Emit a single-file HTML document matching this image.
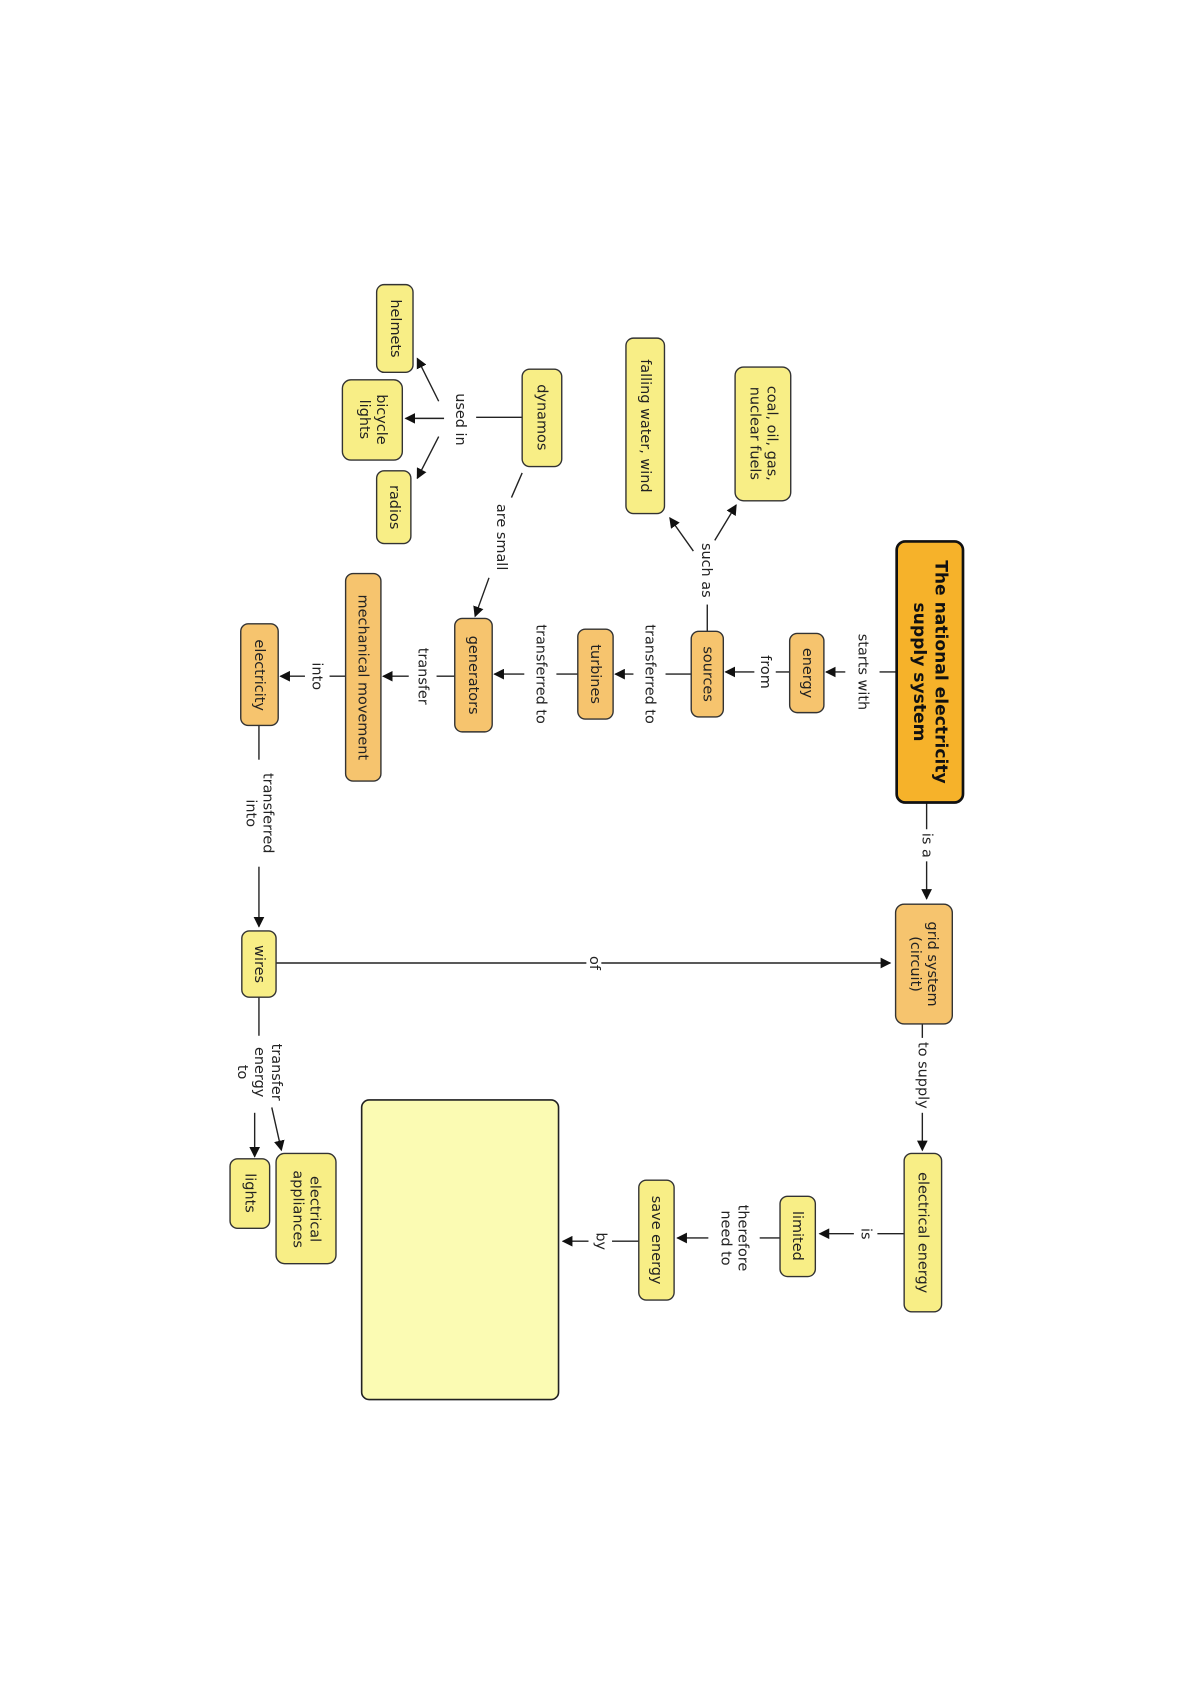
<!DOCTYPE html>
<html><head><meta charset="utf-8"><style>
html,body{margin:0;padding:0;background:#fff;}
svg{display:block;}
text{font-family:"DejaVu Sans","Liberation Sans",sans-serif;font-size:13.5px;fill:#222;}
.t{font-weight:bold;font-size:16px;fill:#111;}
.o{fill:#F6C46E;stroke:#333;stroke-width:1.3;}
.y{fill:#F8EE86;stroke:#333;stroke-width:1.3;}
.l{stroke:#222;stroke-width:1.3;fill:none;}
</style></head><body>
<svg width="1188" height="1681" viewBox="0 0 1188 1681">
<defs><marker id="a" markerWidth="10" markerHeight="10" refX="9" refY="5" orient="auto" markerUnits="userSpaceOnUse"><path d="M0,0 L10,5 L0,10 z" fill="#111"/></marker></defs>
<g transform="scale(1.07)">
<!-- connectors -->
<g class="l">
<line x1="838" y1="628" x2="822" y2="628"/><line x1="790" y1="628" x2="772" y2="628" marker-end="url(#a)"/>
<line x1="738" y1="628" x2="725" y2="628"/><line x1="705" y1="628" x2="678" y2="628" marker-end="url(#a)"/>
<line x1="646" y1="630" x2="622" y2="630"/><line x1="592" y1="630" x2="575" y2="630" marker-end="url(#a)"/>
<line x1="661" y1="590" x2="661" y2="565"/>
<line x1="668" y1="505" x2="688" y2="472" marker-end="url(#a)"/>
<line x1="648" y1="515" x2="626" y2="484" marker-end="url(#a)"/>
<line x1="540" y1="630" x2="520" y2="630"/><line x1="490" y1="630" x2="462" y2="630" marker-end="url(#a)"/>
<line x1="425" y1="632" x2="408" y2="632"/><line x1="382" y1="632" x2="358" y2="632" marker-end="url(#a)"/>
<line x1="323" y1="632" x2="308" y2="632"/><line x1="285" y1="632" x2="262" y2="632" marker-end="url(#a)"/>
<line x1="242" y1="678" x2="242" y2="710"/><line x1="242" y1="810" x2="242" y2="866" marker-end="url(#a)"/>
<line x1="242" y1="900" x2="548" y2="900"/><line x1="562" y1="900" x2="832" y2="900" marker-end="url(#a)"/>
<line x1="866" y1="750" x2="866" y2="775"/><line x1="866" y1="805" x2="866" y2="840" marker-end="url(#a)"/>
<line x1="862" y1="957" x2="862" y2="970"/><line x1="862" y1="1040" x2="862" y2="1075" marker-end="url(#a)"/>
<line x1="845" y1="1153" x2="820" y2="1153"/><line x1="798" y1="1153" x2="766" y2="1153" marker-end="url(#a)"/>
<line x1="729" y1="1157" x2="710" y2="1157"/><line x1="662" y1="1157" x2="633" y2="1157" marker-end="url(#a)"/>
<line x1="597" y1="1160" x2="572" y2="1160"/><line x1="550" y1="1160" x2="526" y2="1160" marker-end="url(#a)"/>
<line x1="242" y1="932" x2="242" y2="968"/>
<line x1="254" y1="1035" x2="263" y2="1075" marker-end="url(#a)"/>
<line x1="238" y1="1040" x2="238" y2="1081" marker-end="url(#a)"/>
<line x1="488" y1="442" x2="478" y2="465"/><line x1="457" y1="540" x2="444" y2="576" marker-end="url(#a)"/>
<line x1="488" y1="390" x2="445" y2="390"/>
<line x1="410" y1="375" x2="390" y2="335" marker-end="url(#a)"/>
<line x1="415" y1="391" x2="379" y2="391" marker-end="url(#a)"/>
<line x1="410" y1="408" x2="390" y2="447" marker-end="url(#a)"/>
</g>
<!-- nodes -->
<rect x="838" y="506" width="62" height="244" rx="8" fill="#F6B22A" stroke="#111" stroke-width="2.5"/>
<rect class="o" x="738" y="592" width="32" height="74" rx="7"/>
<rect class="o" x="646" y="590" width="30" height="80" rx="7"/>
<rect class="o" x="540" y="588" width="33" height="84" rx="7"/>
<rect class="o" x="425" y="578" width="35" height="106" rx="7"/>
<rect class="o" x="323" y="536" width="33" height="194" rx="7"/>
<rect class="o" x="225" y="583" width="35" height="95" rx="7"/>
<rect class="o" x="837" y="845" width="53" height="112" rx="8"/>
<rect class="y" x="845" y="1078" width="35" height="148" rx="7"/>
<rect class="y" x="729" y="1118" width="33" height="75" rx="7"/>
<rect class="y" x="597" y="1103" width="33" height="112" rx="7"/>
<rect x="338" y="1028" width="184" height="280" rx="7" fill="#FBFBB3" stroke="#222" stroke-width="1.5"/>
<rect class="y" x="226" y="870" width="32" height="62" rx="7"/>
<rect class="y" x="258" y="1078" width="56" height="103" rx="8"/>
<rect class="y" x="215" y="1083" width="37" height="65" rx="7"/>
<rect class="y" x="687" y="343" width="52" height="125" rx="8"/>
<rect class="y" x="585" y="316" width="36" height="164" rx="7"/>
<rect class="y" x="488" y="345" width="37" height="91" rx="7"/>
<rect class="y" x="352" y="266" width="34" height="82" rx="7"/>
<rect class="y" x="320" y="355" width="56" height="75" rx="8"/>
<rect class="y" x="352" y="440" width="32" height="68" rx="7"/>
<!-- texts -->
<g text-anchor="middle" dominant-baseline="central">
<text class="t" transform="translate(869,628) rotate(90)"><tspan x="0" dy="-10">The national electricity</tspan><tspan x="0" dy="20">supply system</tspan></text>
<text transform="translate(754,629) rotate(90)">energy</text>
<text transform="translate(661,630) rotate(90)">sources</text>
<text transform="translate(556,630) rotate(90)">turbines</text>
<text transform="translate(442,631) rotate(90)">generators</text>
<text transform="translate(339,633) rotate(90)">mechanical movement</text>
<text transform="translate(242,631) rotate(90)">electricity</text>
<text transform="translate(863,901) rotate(90)"><tspan x="0" dy="-8">grid system</tspan><tspan x="0" dy="16">(circuit)</tspan></text>
<text transform="translate(862,1152) rotate(90)">electrical energy</text>
<text transform="translate(745,1155) rotate(90)">limited</text>
<text transform="translate(613,1159) rotate(90)">save energy</text>
<text transform="translate(242,901) rotate(90)">wires</text>
<text transform="translate(286,1130) rotate(90)"><tspan x="0" dy="-8">electrical</tspan><tspan x="0" dy="16">appliances</tspan></text>
<text transform="translate(233,1115) rotate(90)">lights</text>
<text transform="translate(713,405) rotate(90)"><tspan x="0" dy="-8">coal, oil, gas,</tspan><tspan x="0" dy="16">nuclear fuels</tspan></text>
<text transform="translate(603,398) rotate(90)">falling water, wind</text>
<text transform="translate(506,390) rotate(90)">dynamos</text>
<text transform="translate(369,307) rotate(90)">helmets</text>
<text transform="translate(348,392) rotate(90)"><tspan x="0" dy="-8">bicycle</tspan><tspan x="0" dy="16">lights</tspan></text>
<text transform="translate(368,474) rotate(90)">radios</text>
<!-- link labels -->
<text transform="translate(806,628) rotate(90)">starts with</text>
<text transform="translate(715,628) rotate(90)">from</text>
<text transform="translate(607,630) rotate(90)">transferred to</text>
<text transform="translate(660,533) rotate(90)">such as</text>
<text transform="translate(505,630) rotate(90)">transferred to</text>
<text transform="translate(395,632) rotate(90)">transfer</text>
<text transform="translate(296,632) rotate(90)">into</text>
<text transform="translate(242,760) rotate(90)"><tspan x="0" dy="-8">transferred</tspan><tspan x="0" dy="16">into</tspan></text>
<text transform="translate(555,900) rotate(90)">of</text>
<text transform="translate(866,790) rotate(90)">is a</text>
<text transform="translate(862,1005) rotate(90)">to supply</text>
<text transform="translate(809,1153) rotate(90)">is</text>
<text transform="translate(686,1157) rotate(90)"><tspan x="0" dy="-8">therefore</tspan><tspan x="0" dy="16">need to</tspan></text>
<text transform="translate(561,1160) rotate(90)">by</text>
<text transform="translate(242,1002) rotate(90)"><tspan x="0" dy="-16">transfer</tspan><tspan x="0" dy="16">energy</tspan><tspan x="0" dy="16">to</tspan></text>
<text transform="translate(468,502) rotate(90)">are small</text>
<text transform="translate(430,392) rotate(90)">used in</text>
</g>
</g>
</svg>
</body></html>
